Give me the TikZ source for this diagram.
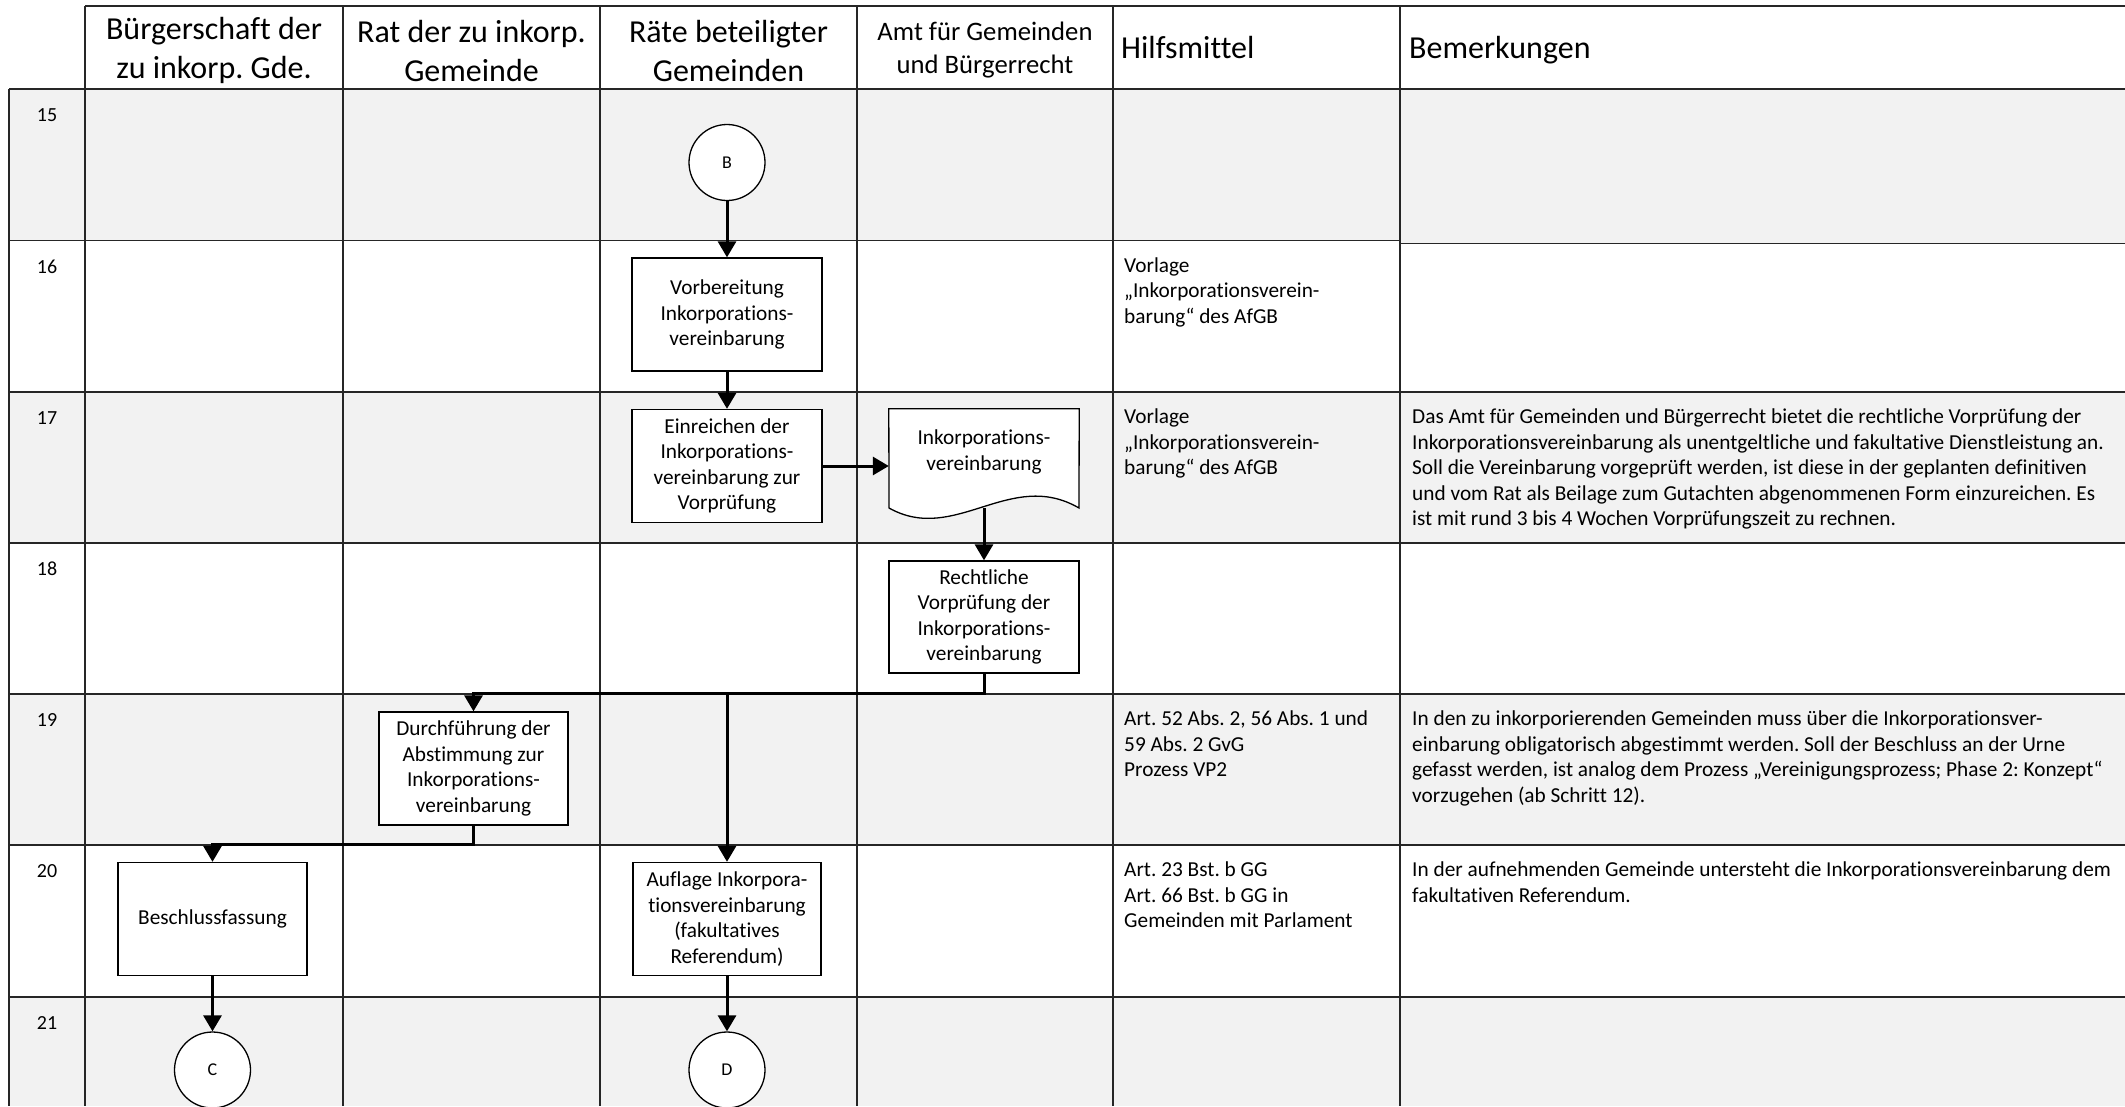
\documentclass[tikz,border=0pt]{standalone}
\usepackage{fontspec}
\setmainfont{Carlito}[Ligatures=NoCommon]
\usetikzlibrary{arrows.meta,calc}
\definecolor{rowgray}{HTML}{F2F2F2}
\frenchspacing
\begin{document}
\begin{tikzpicture}[x=1pt,y=-1pt,
  tl/.style={line width=1.3pt, draw=black!85},
  box/.style={draw=black, line width=1.3pt, fill=white, minimum width=190pt, minimum height=113pt, align=center, inner sep=0pt, font=\fontsize{21.3}{25.5}\selectfont},
  conn/.style={draw=black, line width=1.3pt, fill=white, circle, minimum size=76pt, inner sep=0pt, font=\fontsize{18}{21}\selectfont},
  flow/.style={line width=3pt, line join=miter, -{Triangle[width=18pt,length=16pt]}},
  hd/.style={align=center, font=\fontsize{32}{39}\selectfont, inner sep=0pt},
  num/.style={font=\fontsize{20}{24}\selectfont, inner sep=0pt},
  note/.style={anchor=north west, align=left, inner sep=0pt, font=\fontsize{21.3}{25.5}\selectfont}
]
\useasboundingbox (0,0) rectangle (2125,1106);
\clip (0,0) rectangle (2125,1106);
% row fills
\fill[rowgray] (9,89) rectangle (1400,240.5);
\fill[rowgray] (1400,89) rectangle (2125,243.5);
\fill[rowgray] (9,392) rectangle (2125,543);
\fill[rowgray] (9,694) rectangle (2125,845);
\fill[rowgray] (9,997) rectangle (2125,1106);
% grid
\draw[tl] (85,6) -- (2125,6);
\foreach \yy in {89,392,543,694,845,997} \draw[tl] (9,\yy) -- (2125,\yy);
\draw[tl] (9,240.5) -- (1400,240.5);
\draw[tl] (1400,243.5) -- (2125,243.5);
\draw[tl] (9,89) -- (9,1106);
\foreach \xx in {85,343,600,857,1113,1400} \draw[tl] (\xx,6) -- (\xx,1106);
% header
\node[hd] (h1) at (214,50.5) {Bürgerschaft der\\zu inkorp. Gde.};
\node[hd] (h2) at (471.5,50.5) {Rat der zu inkorp.\\Gemeinde};
\node[hd] (h3) at (728.5,50.5) {Räte beteiligter\\Gemeinden};
\node[hd, font=\fontsize{26.67}{33}\selectfont] (h4) at (985,50) {Amt für Gemeinden\\und Bürgerrecht};
\node[hd, anchor=base west] (h5) at (1121,58) {Hilfsmittel};
\node[hd, anchor=base west] (h6) at (1409,58) {Bemerkungen};
% row numbers
\foreach \n/\yy in {15/89,16/240.5,17/392,18/543,19/694,20/845,21/997}
  \node[num] (n\n) at (47,{\yy+26}) {\n};
% Hilfsmittel
\node[note] (m16) at (1124,254) {\strut Vorlage\\„Inkorporationsverein-\\barung“ des AfGB};
\node[note] (m17) at (1124,405.5) {\strut Vorlage\\„Inkorporationsverein-\\barung“ des AfGB};
\node[note] (m19) at (1124,707.5) {\strut Art. 52 Abs. 2, 56 Abs. 1 und\\59 Abs. 2 GvG\\Prozess VP2};
\node[note] (m20) at (1124,858.5) {\strut Art. 23 Bst. b GG\\Art. 66 Bst. b GG in\\Gemeinden mit Parlament};
% Bemerkungen
\node[note] (b17) at (1412,405.5) {\strut Das Amt für Gemeinden und Bürgerrecht bietet die rechtliche Vorprüfung der\\Inkorporationsvereinbarung als unentgeltliche und fakultative Dienstleistung an.\\Soll die Vereinbarung vorgeprüft werden, ist diese in der geplanten definitiven\\und vom Rat als Beilage zum Gutachten abgenommenen Form einzureichen. Es\\ist mit rund 3 bis 4 Wochen Vorprüfungszeit zu rechnen.};
\node[note] (b19) at (1412,707.5) {\strut In den zu inkorporierenden Gemeinden muss über die Inkorporationsver-\\einbarung obligatorisch abgestimmt werden. Soll der Beschluss an der Urne\\gefasst werden, ist analog dem Prozess „Vereinigungsprozess; Phase 2: Konzept“\\vorzugehen (ab Schritt 12).};
\node[note] (b20) at (1412,858.5) {\strut In der aufnehmenden Gemeinde untersteht die Inkorporationsvereinbarung dem\\fakultativen Referendum.};
% flow shapes
\node[conn] (B) at (727,162.5) {B};
\node[box] (vorb) at (727,314.5) {Vorbereitung\\Inkorporations-\\vereinbarung};
\node[box] (einr) at (727,466) {Einreichen der\\Inkorporations-\\vereinbarung zur\\Vorprüfung};
\node[minimum width=190pt, minimum height=114pt, inner sep=0pt] (doc) at (984,466) {};
\draw[line width=1.3pt, fill=white] (doc.north west) -- (doc.north east) -- (1079,508)
  .. controls (1010,468) and (955,545) .. (889,508) -- cycle;
\node[align=center, inner sep=0pt, font=\fontsize{21.3}{25.5}\selectfont] (doctext) at (984,452) {Inkorporations-\\vereinbarung};
\coordinate (docb) at (984,508);
\node[box, minimum height=112pt] (recht) at (984,617) {Rechtliche\\Vorprüfung der\\Inkorporations-\\vereinbarung};
\node[box, minimum width=189pt] (durch) at (473.5,768.5) {Durchführung der\\Abstimmung zur\\Inkorporations-\\vereinbarung};
\node[box, minimum width=189pt] (besch) at (212.5,919) {Beschlussfassung};
\node[box, minimum width=188pt] (aufl) at (727,919) {Auflage Inkorpora-\\tionsvereinbarung\\(fakultatives\\Referendum)};
\node[conn] (C) at (212.5,1070) {C};
\node[conn] (D) at (727,1070) {D};
% connectors
\coordinate (r19) at (0,693.5);
\coordinate (r20) at (0,844.5);
\draw[flow] (B) -- (vorb);
\draw[flow] (vorb) -- (einr);
\draw[flow] (einr) -- (doc);
\draw[flow] (docb) -- (recht.north);
\draw[flow] (recht.south) -- (recht.south |- r19) -| (durch.north);
\draw[flow] (aufl.north |- r19) -- (aufl.north);
\draw[flow] (durch.south) -- (durch.south |- r20) -| (besch.north);
\draw[flow] (besch) -- (C);
\draw[flow] (aufl) -- (D);
\end{tikzpicture}
\end{document}
